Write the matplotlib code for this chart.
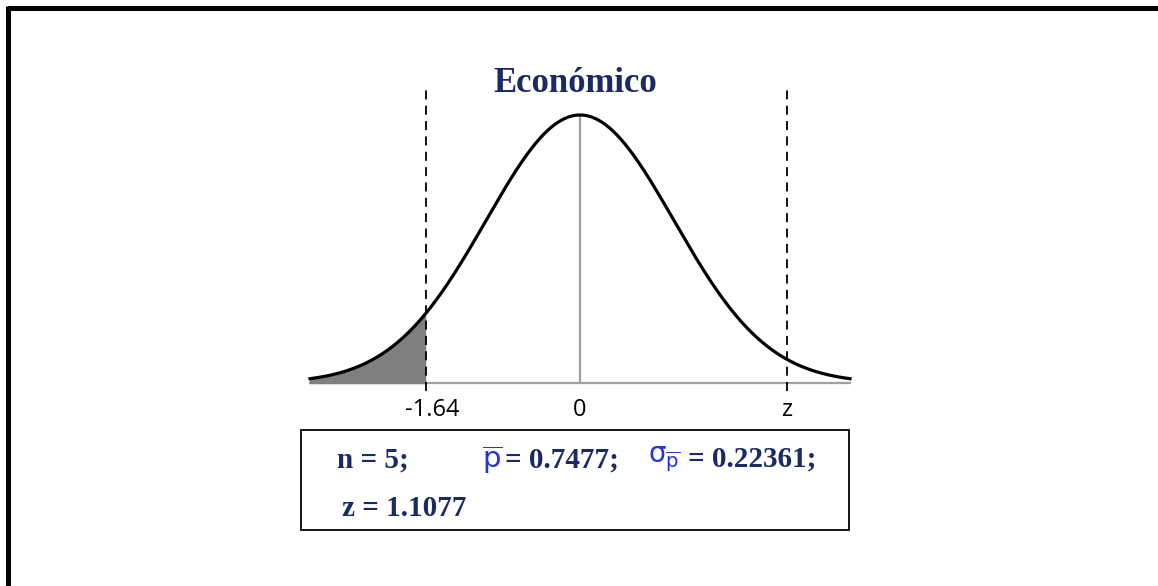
import numpy as np
import matplotlib.pyplot as plt
from matplotlib.patches import Rectangle

# Standard normal curve with the left-tail critical region
x_min, x_max = -2.875, 2.875
z_crit = -1.64
z_mark = 2.2  # schematic position of the "z" marker
tick_pos = [z_crit, 0, z_mark]
tick_labels = ['-1.64', '0', 'z']

title = 'Económico'
n_val = '5'
p_bar = '0.7477'
sigma_p = '0.22361'
z_val = '1.1077'

navy = '#1b2a64'
blue = '#2233dd'

W, H = 1158, 586
fig = plt.figure(figsize=(W / 100, H / 100), dpi=100)

# curve axes: x from -2.875..2.875 over px 310..850, baseline at py 383, peak at py 115
ax = fig.add_axes([310 / W, (H - 383) / H, 540 / W, 268 / H])
xs = np.linspace(x_min, x_max, 400)
pdf = np.exp(-xs ** 2 / 2) / np.sqrt(2 * np.pi)
ax.set_xlim(x_min, x_max)
ax.set_ylim(0, pdf.max())
ax.axis('off')

ax.plot([x_min, x_max], [0, 0], color='#a0a0a0', lw=1.6, clip_on=False, zorder=1)
ax.plot([0, 0], [0, pdf.max()], color='#a0a0a0', lw=1.6, clip_on=False, zorder=1)

tail = xs <= z_crit
ax.fill_between(xs[tail], 0, pdf[tail], color='#7f7f7f', zorder=2, clip_on=False)
ax.plot(xs, pdf, color='black', lw=2.3, clip_on=False, zorder=3)

for xv in [z_crit, z_mark]:
    ax.plot([xv, xv], [-0.012, 0.442], color='black', lw=1.3,
            linestyle=(0, (5, 3.5)), clip_on=False, zorder=4)

for xv, lab in zip(tick_pos, tick_labels):
    ax.text(xv + (0.07 if lab.startswith('-') else 0), -0.022, lab,
            ha='center', va='top', fontsize=17, family='Open Sans', color='black')

# overlay in pixel coordinates for the title, info box and frame
ov = fig.add_axes([0, 0, 1, 1])
ov.set_xlim(0, W)
ov.set_ylim(H, 0)
ov.axis('off')
ov.patch.set_alpha(0)

ov.text(575, 92, title, ha='center', va='baseline', fontsize=25,
        family='Liberation Serif', weight='bold', color=navy)

ov.add_patch(Rectangle((301, 430), 548, 100, fill=False, edgecolor='black', lw=1.3))

serif = dict(family='Liberation Serif', weight='bold', color=navy, fontsize=21)
ov.text(337, 468, f'n = {n_val};', va='baseline', **serif)
ov.text(482, 468, r'$\overline{\mathsf{p}}$', va='baseline', color=blue, fontsize=21)
ov.text(505, 468, f'= {p_bar};', va='baseline', **serif)
# sigma with a p-bar subscript, built as one mathtext string
ov.text(648, 463, r'$\mathsf{\sigma}_{\overline{\mathsf{p}}}$', va='baseline',
        color=blue, fontsize=20)
ov.text(688, 467, f'= {sigma_p};', va='baseline', **serif)
ov.text(342, 516, f'z = {z_val}', va='baseline', **serif)

# heavy frame on the top and left edges
ov.plot([8, W], [8, 8], color='black', lw=3.6, solid_capstyle='butt')
ov.plot([8, 8], [6, H], color='black', lw=3.6, solid_capstyle='butt')

fig.savefig('out.png', dpi=100)
